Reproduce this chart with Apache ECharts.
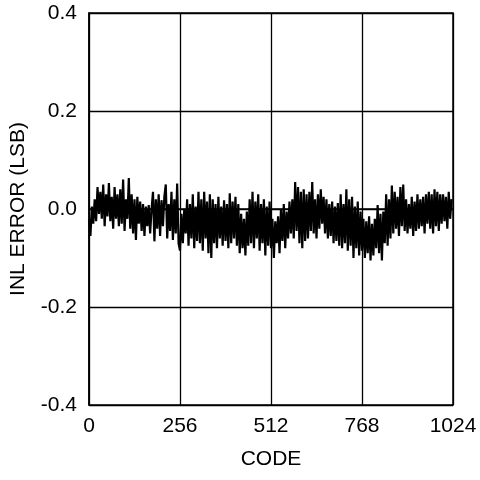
<!DOCTYPE html>
<html>
<head>
<meta charset="utf-8">
<script src="https://cdn.jsdelivr.net/npm/echarts@6/dist/echarts.min.js"></script>
<style>html,body{margin:0;padding:0;background:#fff;}#c{width:480px;height:480px;}</style>
</head>
<body>
<div id="c"></div>
<script>
const codeStep = 4;
const xTicks = [0, 256, 512, 768, 1024];
const xTickLabels = ["0", "256", "512", "768", "1024"];
const yTickLabels = ["-0.4", "-0.2", "0.0", "0.2", "0.4"];
const segA = [-0.02, -0.055, 0.005, -0.03,
  0.02, -0.025, 0.045, -0.01,
  0.035, -0.02, 0.05, -0.035, 0.03, -0.015, 0.053,
  -0.025, 0.025, -0.04, 0.045, -0.02, 0.03, -0.035,
  0.04, -0.03, 0.06, -0.045, 0.02, -0.02, 0.063, -0.04,
  0.03, -0.05, 0.02, -0.063, 0.025, -0.03, 0.015,
  -0.045, 0.01, -0.055, 0.005, -0.035, 0.008, -0.05, 0.0,
  0.035, -0.066, 0.02, -0.04, 0.03, -0.055, 0.018, -0.035, 0.025,
  0.05, -0.06, 0.01, -0.045, 0.035, -0.063, 0.02, -0.05, 0.052, -0.07];
const segB = [-0.085, -0.01, -0.07, 0.0, -0.05,
  0.02, -0.075, 0.01, -0.06, 0.03, -0.08, 0.005, -0.065, 0.035,
  -0.07, 0.02, -0.085, 0.035, -0.06, 0.015, -0.09, 0.03, -0.1,
  0.02, -0.07, 0.01, -0.08, 0.025, -0.06, 0.005, -0.075, 0.018, -0.065, 0.01, -0.08,
  0.032, -0.07, 0.015, -0.06, 0.025, -0.075, 0.01,
  -0.09, -0.01, -0.08, -0.02, -0.095, -0.005, -0.075,
  0.02, -0.07, 0.035, -0.08, 0.015, -0.06, 0.03,
  -0.085, 0.01, -0.07, 0.02, -0.095, 0.005, -0.075, 0.015];
const segC = [-0.08, -0.02, -0.1, -0.025, -0.07, -0.015, -0.09,
  0.0, -0.065, 0.01, -0.08, -0.005, -0.06, 0.015,
  -0.05, 0.02, -0.06, 0.055, -0.045,
  0.045, -0.07, 0.035, -0.08, 0.04, -0.065, 0.03,
  -0.06, 0.035, -0.045, 0.055, -0.05, 0.02, -0.06,
  0.03, -0.04, 0.04, -0.03, 0.025, -0.05, 0.02,
  -0.06, 0.01, -0.055, 0.015, -0.07, 0.005, -0.065, 0.012, -0.075,
  0.03, -0.08, 0.01, -0.07, 0.04, -0.085, 0.02,
  -0.075, 0.025, -0.1, 0.005, -0.08, 0.015, -0.095, -0.005];
const segD = [-0.085, -0.02, -0.1, -0.025, -0.09, -0.015, -0.105, -0.03, -0.095, -0.02,
  -0.08, 0.008, -0.09, -0.01, -0.105, -0.005, -0.07,
  0.03, -0.075, 0.02, -0.06, 0.048, -0.05, 0.035,
  -0.04, 0.025, -0.055, 0.045, -0.035, 0.05, -0.045,
  0.02, -0.05, 0.01, -0.04, 0.025, -0.055, 0.015,
  -0.045, 0.03, -0.04, 0.02, -0.035, 0.025, -0.05, 0.03, -0.03,
  0.035, -0.04, 0.03, -0.05, 0.04, -0.035, 0.035, -0.045, 0.03,
  -0.03, 0.03, -0.025, 0.025, -0.04, 0.035, -0.02, 0.02];
const inlValues = segA.concat(segB, segC, segD);
const seriesData = inlValues.map((v, i) => [i * codeStep, v]);

const chart = echarts.init(document.getElementById('c'), null, {renderer: 'canvas'});
const font = 'Liberation Sans, Arial, sans-serif';
chart.setOption({
  animation: false,
  backgroundColor: '#fff',
  grid: {left: 88, right: 27, top: 13, bottom: 75, show: true, borderColor: '#000', borderWidth: 1.5, backgroundColor: 'transparent'},
  xAxis: {
    type: 'value', min: xTicks[0], max: xTicks[xTicks.length - 1], interval: 256,
    name: 'CODE', nameLocation: 'middle', nameGap: 44,
    nameTextStyle: {color: '#000', fontSize: 21, fontFamily: font},
    axisLine: {show: true, lineStyle: {color: '#000', width: 1.5}},
    axisTick: {show: false},
    axisLabel: {color: '#000', fontSize: 21, fontFamily: font, margin: 11,
      formatter: function (v) { return xTickLabels[xTicks.indexOf(v)]; }},
    splitLine: {show: true, lineStyle: {color: '#000', width: 1.3}}
  },
  yAxis: {
    type: 'value', min: -0.4, max: 0.4, interval: 0.2,
    name: 'INL ERROR (LSB)', nameLocation: 'middle', nameGap: 60, nameRotate: 90,
    nameTextStyle: {color: '#000', fontSize: 21, fontFamily: font},
    axisLine: {show: true, lineStyle: {color: '#000', width: 1.5}},
    axisTick: {show: false},
    axisLabel: {color: '#000', fontSize: 21, fontFamily: font, margin: 12,
      formatter: function (v) { const idx = Math.round((v + 0.4) / 0.2); return yTickLabels[idx]; }},
    splitLine: {show: true, lineStyle: {color: '#000', width: 1.3}}
  },
  series: [{
    type: 'line', data: seriesData, showSymbol: false, symbol: 'none',
    lineStyle: {color: '#000', width: 2.2}, silent: true
  }]
});
</script>
</body>
</html>
